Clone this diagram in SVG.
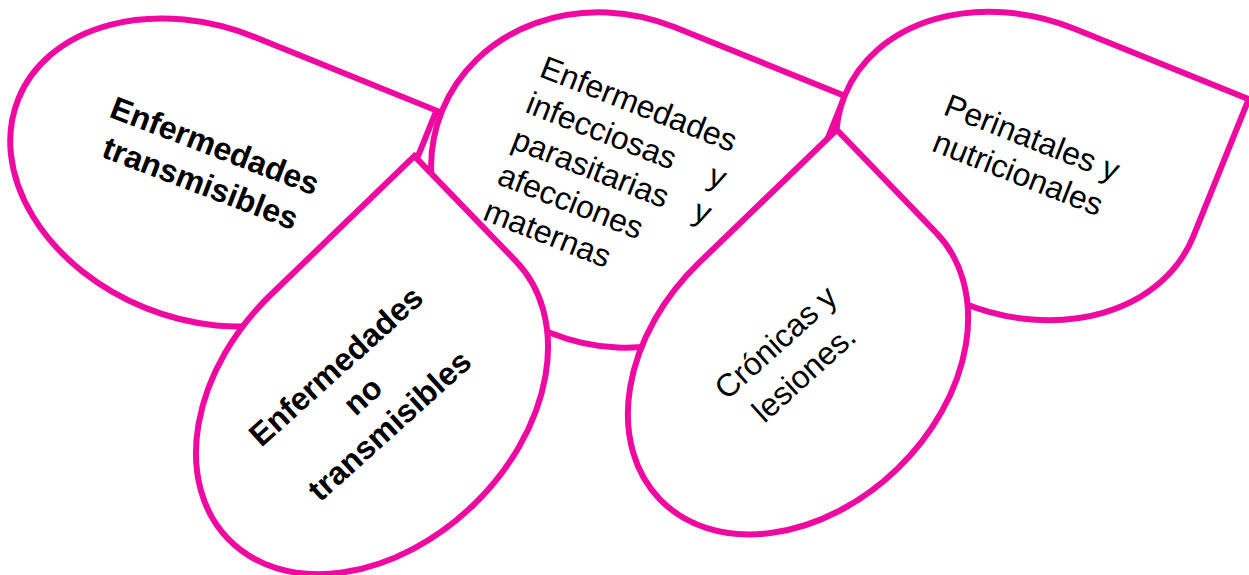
<svg xmlns="http://www.w3.org/2000/svg" width="1249" height="575" viewBox="0 0 1249 575">
<style>
.drop{fill:#ffffff;stroke:#EE0AA0;stroke-width:6;stroke-linejoin:miter}
.t{font-family:"Liberation Sans",Arial,sans-serif;font-size:32px;fill:#000000}
.b{font-weight:bold}
.c{text-anchor:middle}
.e{text-anchor:end}
</style>
<rect width="1249" height="575" fill="#ffffff"/>
<g id="connectors"></g>
<g id="node-transmisibles">
<path class="drop" transform="translate(200,172.5) rotate(22)" d="M196,-146 L196,0 A196,146 0 0 1 0,146 A196,146 0 0 1 -196,0 A196,146 0 0 1 0,-146 Z"/>
<g transform="translate(211,156) rotate(21)">
<text class="t b c" x="0" y="0">Enfermedades</text>
<text class="t b c" x="0" y="40">transmisibles</text>
</g>
</g>
<g id="node-infecciosas">
<path class="drop" transform="translate(612.5,180) rotate(22)" d="M184,-165 L184,0 A184,165 0 0 1 0,165 A184,165 0 0 1 -184,0 A184,165 0 0 1 0,-165 Z"/>
<g transform="translate(538,76) rotate(21.5)">
<text class="t" x="0" y="0">Enfermedades</text>
<text class="t" x="0" y="38.5">infecciosas</text>
<text class="t e" x="212" y="38.5">y</text>
<text class="t" x="0" y="77">parasitarias</text>
<text class="t e" x="211" y="77">y</text>
<text class="t" x="0" y="115.5">afecciones</text>
<text class="t" x="0" y="154">maternas</text>
</g>
</g>
<g id="node-perinatales">
<path class="drop" transform="translate(1019,166) rotate(22)" d="M188,-148 L188,0 A188,148 0 0 1 0,148 A188,148 0 0 1 -188,0 A188,148 0 0 1 0,-148 Z"/>
<g transform="translate(1028,148) rotate(21.5)">
<text class="t c" x="0" y="0">Perinatales y</text>
<text class="t c" x="0" y="38">nutricionales</text>
</g>
</g>
<g id="node-no-transmisibles">
<path class="drop" transform="translate(372,400) rotate(-44)" d="M200,-146 L200,0 A200,146 0 0 1 0,146 A200,146 0 0 1 -200,0 A200,146 0 0 1 0,-146 Z"/>
<g transform="translate(370,404) rotate(-42)">
<text class="t b c" x="0" y="-40">Enfermedades</text>
<text class="t b c" x="0" y="0">no</text>
<text class="t b c" x="0" y="40">transmisibles</text>
</g>
</g>
<g id="node-cronicas">
<path class="drop" transform="translate(798,366) rotate(-44)" d="M192,-143 L192,0 A192,143 0 0 1 0,143 A192,143 0 0 1 -192,0 A192,143 0 0 1 0,-143 Z"/>
<g transform="translate(783,350.5) rotate(-42)">
<text class="t c" x="0" y="0">Crónicas y</text>
<text class="t c" x="0" y="42">lesiones.</text>
</g>
</g>
</svg>
